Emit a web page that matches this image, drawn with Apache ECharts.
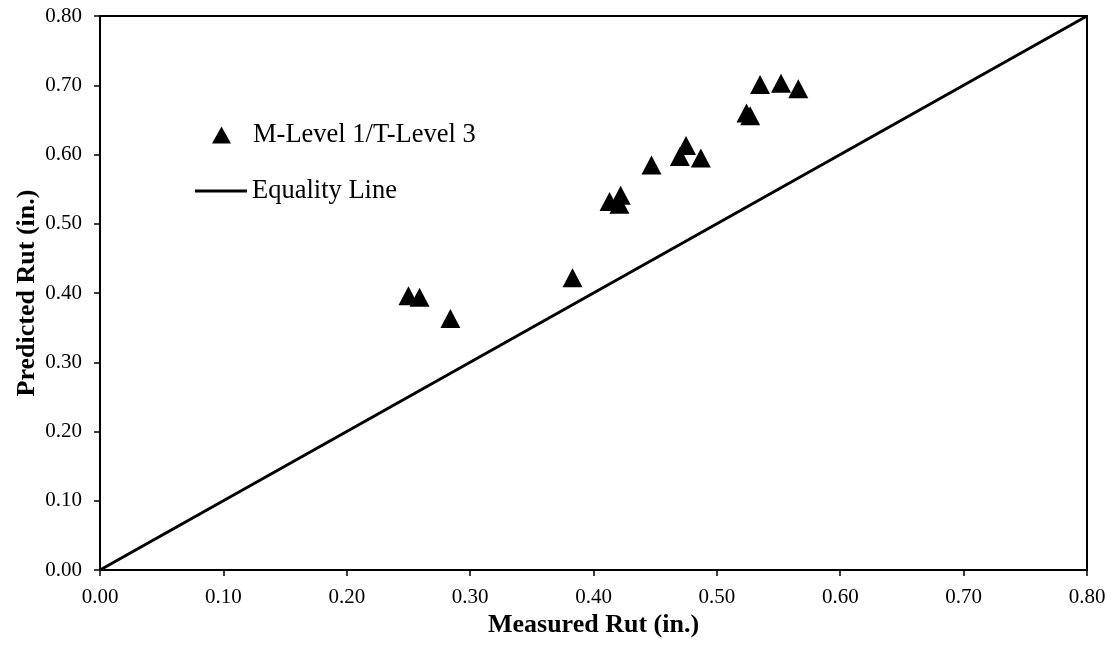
<!DOCTYPE html>
<html>
<head>
<meta charset="utf-8">
<script src="https://cdn.jsdelivr.net/npm/echarts@6/dist/echarts.min.js"></script>
<style>
  html, body { margin: 0; padding: 0; background: #ffffff; }
  #chart { width: 1118px; height: 646px; }
</style>
</head>
<body>
<div id="chart"></div>
<script>
// Measured vs. predicted rut depth (in.)
const measuredRut = [0.250, 0.259, 0.284, 0.383, 0.413, 0.422, 0.421, 0.447, 0.475, 0.470, 0.487, 0.524, 0.527, 0.535, 0.552, 0.566];
const predictedRut = [0.396, 0.394, 0.363, 0.422, 0.532, 0.541, 0.528, 0.585, 0.613, 0.597, 0.595, 0.660, 0.656, 0.701, 0.703, 0.695];
const equalityX = [0.0, 0.8];
const equalityY = [0.0, 0.8];
const seriesNames = ['M-Level 1/T-Level 3', 'Equality Line'];
const axisTitles = ['Measured Rut (in.)', 'Predicted Rut (in.)'];

const FONT = '"Liberation Serif", "Times New Roman", serif';

const pointData = measuredRut.map((x, i) => [x, predictedRut[i]]);
const lineData = equalityX.map((x, i) => [x, equalityY[i]]);

const axisCommon = {
  type: 'value',
  min: 0,
  max: 0.8,
  interval: 0.1,
  nameLocation: 'middle',
  nameMoveOverlap: false,
  nameTextStyle: { fontFamily: FONT, fontSize: 26, fontWeight: 'bold', color: '#000' },
  axisLine: { show: true, onZero: false, lineStyle: { color: '#000', width: 2 } },
  axisTick: { show: true, inside: false, length: 6, lineStyle: { color: '#000', width: 1.5 } },
  axisLabel: {
    fontFamily: FONT, fontSize: 21, color: '#000',
    formatter: v => v.toFixed(2)
  },
  splitLine: { show: false }
};

const legendText = { fontFamily: FONT, fontSize: 26.5, color: '#000', lineHeight: 30 };

const chart = echarts.init(document.getElementById('chart'), null, { renderer: 'canvas' });
chart.setOption({
  backgroundColor: '#ffffff',
  animation: false,
  grid: {
    left: 100, right: 31, top: 16, bottom: 76,
    show: true, borderColor: '#000', borderWidth: 2, backgroundColor: 'transparent'
  },
  xAxis: Object.assign({}, axisCommon, {
    name: axisTitles[0],
    nameGap: 42,
    axisLabel: Object.assign({}, axisCommon.axisLabel, { margin: 17 })
  }),
  yAxis: Object.assign({}, axisCommon, {
    name: axisTitles[1],
    nameGap: 60,
    axisLabel: Object.assign({}, axisCommon.axisLabel, { margin: 18, padding: [5, 0, 0, 0] })
  }),
  legend: [
    {
      left: 207,
      top: 115,
      itemWidth: 19,
      itemHeight: 17,
      textStyle: Object.assign({}, legendText, { padding: [0, 0, 0, 17] }),
      data: [{ name: seriesNames[0], icon: 'triangle' }]
    },
    {
      left: 190,
      top: 171,
      itemWidth: 52,
      itemHeight: 3,
      textStyle: legendText,
      data: [{ name: seriesNames[1], icon: 'rect' }]
    }
  ],
  series: [
    {
      name: seriesNames[1],
      type: 'line',
      data: lineData,
      symbol: 'none',
      lineStyle: { color: '#000', width: 3 },
      itemStyle: { color: '#000' },
      z: 2
    },
    {
      name: seriesNames[0],
      type: 'scatter',
      data: pointData,
      symbol: 'triangle',
      symbolSize: [20, 19],
      itemStyle: { color: '#000', opacity: 1 },
      z: 3
    }
  ]
});
</script>
</body>
</html>
